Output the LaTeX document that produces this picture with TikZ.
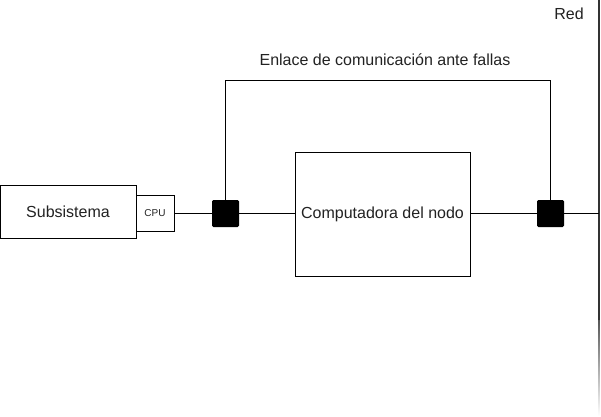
\documentclass[tikz,border=0pt]{standalone}
\usepackage{fontspec}
\setmainfont{Liberation Sans}
\definecolor{txt}{HTML}{222222}
\begin{document}
\begin{tikzpicture}[x=1pt,y=-1pt,
  box/.style={draw=black, line width=1pt, fill=white, inner sep=0pt, text=txt},
  sq/.style={draw=black, fill=black, line width=1pt, minimum width=26pt, minimum height=26pt, inner sep=0pt, rounded corners=1pt},
  lbl/.style={text=txt, inner sep=0pt, font=\fontsize{16}{19}\selectfont},
  wire/.style={draw=black, line width=1pt}]
\useasboundingbox (0,0) rectangle (601,416);
% Red line
\shade[top color=black!80, bottom color=white] (598.2,300) rectangle (599.7,416);
\fill[black!80] (598.2,0) rectangle (599.7,320);
\node[lbl, anchor=center] (red) at (569,14) {Red};
\coordinate (redpt) at (598.5,213);
% boxes
\node[box, minimum width=136pt, minimum height=53pt, font=\fontsize{16}{19}\selectfont] (sub) at (68,211.5) {Subsistema};
\node[box, minimum width=38pt, minimum height=36pt, font=\fontsize{10}{12}\selectfont] (cpu) at (155,213) {CPU};
\node[box, minimum width=175pt, minimum height=124pt, font=\fontsize{16}{19}\selectfont] (comp) at (382.5,214) {Computadora del nodo};
\node[sq] (sq1) at (225.5,213.5) {};
\node[sq] (sq2) at (550.5,213.5) {};
\node[lbl] (enl) at (385,60) {Enlace de comunicación ante fallas};
% wires
\draw[wire] (cpu.east |- 0,213) -- (sq1.west |- 0,213);
\draw[wire] (sq1.east |- 0,213) -- (comp.west |- 0,213);
\draw[wire] (comp.east |- 0,213) -- (sq2.west |- 0,213);
\draw[wire] (sq2.east |- 0,213) -- (redpt);
\draw[wire] (sq1.north) -- (sq1.north |- 0,80) -- (sq2.north |- 0,80) -- (sq2.north);
\end{tikzpicture}
\end{document}
